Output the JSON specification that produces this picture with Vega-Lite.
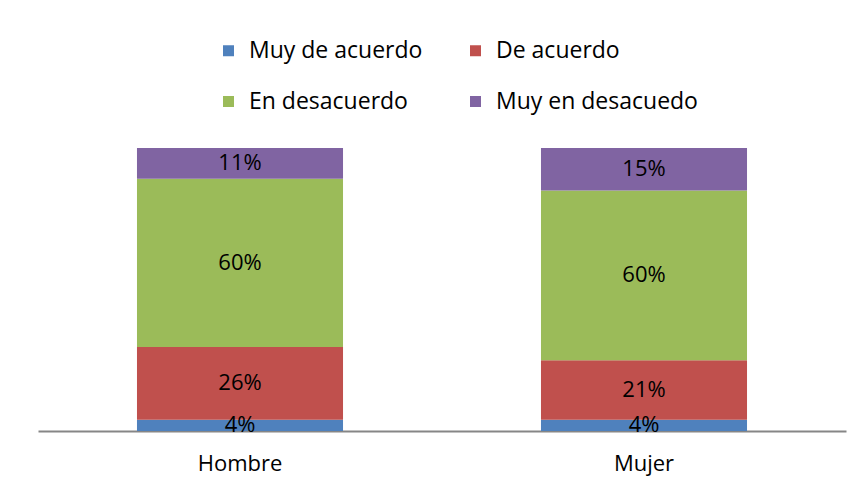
{
  "$schema": "https://vega.github.io/schema/vega-lite/v6.json",
  "width": 808,
  "height": 283,
  "autosize": {"type": "none"},
  "padding": {"left": 38, "top": 148, "right": 15, "bottom": 60},
  "background": "white",
  "config": {
    "view": {"stroke": null},
    "font": "Open Sans"
  },
  "data": {
    "values": [
      {"genero": "Hombre", "respuesta": "Muy de acuerdo", "orden": 1, "valor": 0.04},
      {"genero": "Hombre", "respuesta": "De acuerdo", "orden": 2, "valor": 0.26},
      {"genero": "Hombre", "respuesta": "En desacuerdo", "orden": 3, "valor": 0.60},
      {"genero": "Hombre", "respuesta": "Muy en desacuedo", "orden": 4, "valor": 0.11},
      {"genero": "Mujer", "respuesta": "Muy de acuerdo", "orden": 1, "valor": 0.04},
      {"genero": "Mujer", "respuesta": "De acuerdo", "orden": 2, "valor": 0.21},
      {"genero": "Mujer", "respuesta": "En desacuerdo", "orden": 3, "valor": 0.60},
      {"genero": "Mujer", "respuesta": "Muy en desacuedo", "orden": 4, "valor": 0.15}
    ]
  },
  "transform": [
    {"stack": "valor", "groupby": ["genero"], "sort": [{"field": "orden", "order": "ascending"}], "as": ["y0", "y1"], "offset": "normalize"}
  ],
  "encoding": {
    "x": {
      "field": "genero",
      "type": "nominal",
      "sort": ["Hombre", "Mujer"],
      "scale": {"paddingInner": 0.49, "paddingOuter": 0.245},
      "axis": {
        "title": null,
        "labelAngle": 0,
        "labelFontSize": 22,
        "labelColor": "#000000",
        "labelPadding": 22,
        "ticks": false,
        "domainColor": "#868686",
        "domainWidth": 2
      }
    }
  },
  "layer": [
    {
      "mark": {"type": "bar"},
      "encoding": {
        "y": {
          "field": "y0",
          "type": "quantitative",
          "scale": {"domain": [0, 1], "nice": false},
          "axis": null
        },
        "y2": {"field": "y1"},
        "color": {
          "field": "respuesta",
          "type": "nominal",
          "scale": {
            "domain": ["Muy de acuerdo", "De acuerdo", "En desacuerdo", "Muy en desacuedo"],
            "range": ["#4F81BD", "#C0504D", "#9BBB59", "#8064A2"]
          },
          "legend": {
            "title": null,
            "orient": "none",
            "direction": "horizontal",
            "legendX": 179,
            "legendY": -109,
            "columns": 2,
            "columnPadding": 41,
            "rowPadding": 27,
            "symbolType": "square",
            "symbolSize": 121,
            "symbolStrokeWidth": 0,
            "labelFontSize": 23,
            "labelOffset": 9,
            "labelColor": "#000000",
            "labelLimit": 300
          }
        }
      }
    },
    {
      "transform": [
        {"fold": ["y0", "y1"], "as": ["extremo", "yv"]},
        {"aggregate": [{"op": "mean", "field": "yv", "as": "ymid"}, {"op": "max", "field": "valor", "as": "valor"}], "groupby": ["genero", "respuesta"]}
      ],
      "mark": {"type": "text", "fontSize": 22, "color": "#000000"},
      "encoding": {
        "y": {"field": "ymid", "type": "quantitative", "axis": null},
        "text": {"field": "valor", "type": "quantitative", "format": ".0%"}
      }
    }
  ]
}
